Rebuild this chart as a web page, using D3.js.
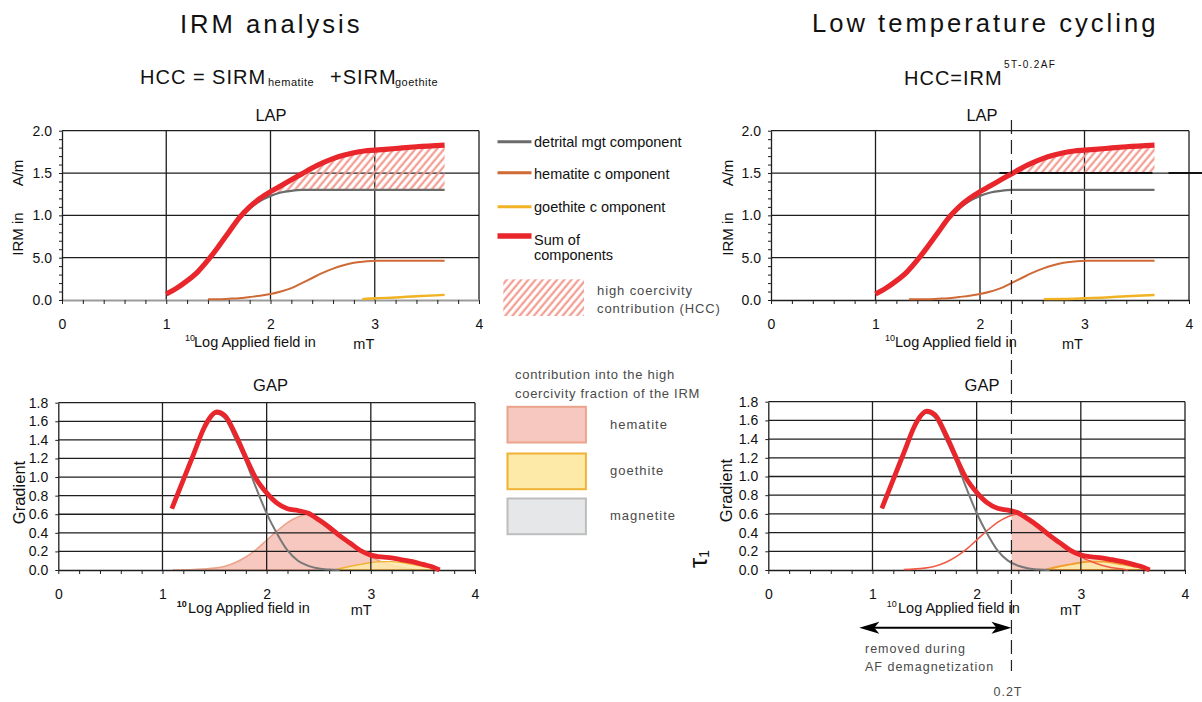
<!DOCTYPE html>
<html>
<head>
<meta charset="utf-8">
<script src="https://cdn.jsdelivr.net/npm/d3@7"></script>
<style>
  html, body { margin: 0; padding: 0; background: #fff; }
  svg { display: block; font-family: "Liberation Sans", Arial, Helvetica, sans-serif; }
</style>
</head>
<body>
<svg id="chart" width="1202" height="702"></svg>
<script>
// ---- Field axis: log10 of the applied field in mT ----
const fieldTicks = [0, 1, 2, 3, 4];
const fieldMinorTicks = [0, 0.2, 0.4, 0.6, 0.8, 1, 1.2, 1.4, 1.6, 1.8, 2, 2.2, 2.4, 2.6, 2.8, 3, 3.2, 3.4, 3.6, 3.8, 4];
const afField = 2.301; // 0.2 T = 200 mT

// ---- LAP (linear acquisition plot) ----
const lapTickValues = [0, 0.5, 1.0, 1.5, 2.0];
const lapTickLabels = ["0.0", "5.0", "1.0", "1.5", "2.0"];
const lapMinorTicks = [0, 0.1, 0.2, 0.3, 0.4, 0.5, 0.6, 0.7, 0.8, 0.9, 1.0, 1.1, 1.2, 1.3, 1.4, 1.5, 1.6, 1.7, 1.8, 1.9, 2.0];
const lapField     = [1.0, 1.1, 1.17, 1.3, 1.4, 1.5, 1.6, 1.7, 1.8, 1.9, 2.0, 2.1, 2.2, 2.3, 2.4, 2.5, 2.6, 2.7, 2.8, 2.9, 3.0, 3.2, 3.4, 3.67];
const lapSum       = [0.07, 0.14, 0.20, 0.33, 0.47, 0.63, 0.80, 0.97, 1.10, 1.20, 1.28, 1.35, 1.42, 1.49, 1.56, 1.62, 1.67, 1.71, 1.74, 1.76, 1.77, 1.79, 1.81, 1.83];
const lapMagnetite = [0.07, 0.14, 0.20, 0.33, 0.46, 0.62, 0.785, 0.95, 1.08, 1.17, 1.23, 1.27, 1.29, 1.30, 1.30, 1.30, 1.30, 1.30, 1.30, 1.30, 1.30, 1.30, 1.30, 1.30];
const lapHemFieldL = [1.4, 1.5, 1.6, 1.7, 1.8, 1.9, 2.0, 2.1, 2.2, 2.3, 2.4, 2.5, 2.6, 2.7, 2.8, 2.9, 3.0, 3.2, 3.4, 3.67];
const lapHematiteL = [0.01, 0.01, 0.015, 0.02, 0.035, 0.05, 0.07, 0.10, 0.14, 0.20, 0.26, 0.32, 0.37, 0.41, 0.44, 0.455, 0.465, 0.465, 0.465, 0.465];
const lapHemFieldR = [1.32, 1.4, 1.5, 1.6, 1.7, 1.8, 1.9, 2.0, 2.1, 2.2, 2.3, 2.4, 2.5, 2.6, 2.7, 2.8, 2.9, 3.0, 3.2, 3.4, 3.67];
const lapHematiteR = [0.01, 0.01, 0.01, 0.015, 0.02, 0.035, 0.05, 0.07, 0.10, 0.14, 0.20, 0.26, 0.32, 0.37, 0.41, 0.44, 0.455, 0.465, 0.465, 0.465, 0.465];
const lapGoeFieldL = [2.88, 3.0, 3.2, 3.4, 3.67];
const lapGoethiteL = [0.01, 0.02, 0.03, 0.045, 0.06];
const lapGoeFieldR = [2.61, 2.8, 3.0, 3.2, 3.4, 3.67];
const lapGoethiteR = [0.01, 0.012, 0.02, 0.03, 0.045, 0.06];
const hccStartL = 1.8;        // HCC = sum above the magnetite curve
const hccLevelR = 1.5;        // HCC = IRM left after 0.2 T AF

// ---- GAP (gradient of acquisition plot) ----
const gapTickValues = [0, 0.2, 0.4, 0.6, 0.8, 1.0, 1.2, 1.4, 1.6, 1.8];
const gapField     = [1.09, 1.2, 1.3, 1.4, 1.45, 1.52, 1.6, 1.7, 1.8, 1.9, 2.0, 2.1, 2.2, 2.3, 2.4, 2.5, 2.6, 2.7, 2.8, 2.9, 3.0, 3.1, 3.2, 3.3, 3.4, 3.5, 3.6, 3.66];
const gapSum       = [0.66, 0.97, 1.25, 1.53, 1.63, 1.70, 1.66, 1.46, 1.21, 0.98, 0.83, 0.72, 0.66, 0.64, 0.61, 0.54, 0.46, 0.37, 0.29, 0.21, 0.16, 0.14, 0.13, 0.11, 0.09, 0.06, 0.03, 0.0];
const gapMgtField  = [1.09, 1.2, 1.3, 1.4, 1.45, 1.52, 1.6, 1.7, 1.8, 1.9, 2.0, 2.1, 2.2, 2.3, 2.4, 2.5, 2.6, 2.7];
const gapMagnetite = [0.66, 0.97, 1.245, 1.52, 1.62, 1.68, 1.63, 1.41, 1.17, 0.88, 0.61, 0.39, 0.21, 0.10, 0.045, 0.015, 0.005, 0.0];
const gapHemField  = [1.1, 1.3, 1.5, 1.6, 1.7, 1.8, 1.9, 2.0, 2.1, 2.2, 2.3, 2.4, 2.5, 2.6, 2.7, 2.8, 2.9, 3.0, 3.1, 3.2, 3.3, 3.4, 3.45];
const gapHematite  = [0.0, 0.005, 0.02, 0.04, 0.08, 0.14, 0.22, 0.32, 0.42, 0.51, 0.57, 0.60, 0.56, 0.48, 0.38, 0.29, 0.21, 0.14, 0.09, 0.05, 0.025, 0.01, 0.0];
const gapGoeField  = [2.65, 2.8, 2.9, 3.0, 3.1, 3.2, 3.3, 3.4, 3.5, 3.6, 3.66];
const gapGoethite  = [0.0, 0.04, 0.06, 0.08, 0.09, 0.09, 0.08, 0.06, 0.04, 0.02, 0.0];

// ---- styling ----
const C = {
  sum: "#e8262b", mgt: "#6b6b6b", hem: "#cf6a36", goe: "#f1b324",
  hemFill: "#f7c8bf", hemEdge: "#eaa48c", goeFill: "#fde9a8", goeEdge: "#f0b234",
  mgtFill: "#e6e7e9", mgtEdge: "#bdbdbd", grid: "#1e1e1e", text: "#111", soft: "#4a4a4a"
};

const svg = d3.select("#chart");
const defs = svg.append("defs");

const hatch = defs.append("pattern")
  .attr("id", "hatch").attr("patternUnits", "userSpaceOnUse")
  .attr("width", 5.5).attr("height", 5.5)
  .attr("patternTransform", "rotate(40)");
hatch.append("line")
  .attr("x1", 1.5).attr("y1", 0).attr("x2", 1.5).attr("y2", 5.5)
  .attr("stroke", "#f2978c").attr("stroke-width", 2.1);

function pts(xs, ys) { return d3.zip(xs, ys); }

function text(g, x, y, str, size, o = {}) {
  const t = g.append("text").attr("x", x).attr("y", y)
    .attr("font-size", size).attr("fill", o.fill || C.text)
    .attr("text-anchor", o.anchor || "start")
    .text(str);
  if (o.ls) t.attr("letter-spacing", o.ls);
  if (o.weight) t.attr("font-weight", o.weight);
  return t;
}

function rotText(g, x, y, str, size) {
  g.append("text").attr("transform", `translate(${x},${y}) rotate(-90)`)
    .attr("text-anchor", "middle").attr("font-size", size).attr("fill", C.text).text(str);
}

// Builds one panel: scales, grid, frame, axes.
function panel(frame, yMax, yMajor, yMinor, yLabels, baseColor) {
  const x = d3.scaleLinear().domain([0, 4]).range([frame.left, frame.right]);
  const y = d3.scaleLinear().domain([0, yMax]).range([frame.bottom, frame.top]);
  const g = svg.append("g");
  const under = g.append("g");   // fills
  const grid = g.append("g");
  const over = g.append("g");    // curves

  grid.selectAll("line.h").data(yMajor.filter(v => v > 0)).join("line")
    .attr("x1", x(0)).attr("x2", x(4))
    .attr("y1", d => y(d)).attr("y2", d => y(d))
    .attr("stroke", C.grid).attr("stroke-width", 1.3);
  grid.selectAll("line.v").data(fieldTicks.filter(v => v > 0)).join("line")
    .attr("x1", d => x(d)).attr("x2", d => x(d))
    .attr("y1", y(0)).attr("y2", y(yMax))
    .attr("stroke", C.grid).attr("stroke-width", 1.3);

  // field axis: minor ticks + labels
  const xa = grid.append("g").attr("transform", `translate(0,${y(0)})`)
    .call(d3.axisBottom(x).tickValues(fieldMinorTicks).tickSize(4).tickSizeOuter(0).tickFormat(""));
  xa.select(".domain").attr("stroke", baseColor).attr("stroke-width", baseColor === C.grid ? 1.3 : 2);
  xa.selectAll(".tick line").attr("stroke", C.grid).attr("stroke-width", 1);
  const xl = grid.append("g").attr("transform", `translate(0,${y(0)})`)
    .call(d3.axisBottom(x).tickValues(fieldTicks).tickSize(0).tickPadding(19).tickFormat(d3.format("d")));
  xl.select(".domain").remove();
  xl.selectAll("text").attr("font-size", 14).attr("font-family", null).attr("fill", C.text);

  // value axis
  const ya = grid.append("g").attr("transform", `translate(${x(0)},0)`)
    .call(d3.axisLeft(y).tickValues(yMinor).tickSize(3).tickSizeOuter(0).tickFormat(""));
  ya.select(".domain").attr("stroke", C.grid).attr("stroke-width", 1.3);
  ya.selectAll(".tick line").attr("stroke", C.grid).attr("stroke-width", 1);
  const yl = grid.append("g").attr("transform", `translate(${x(0)},0)`)
    .call(d3.axisLeft(y).tickValues(yMajor).tickSize(0).tickPadding(10)
      .tickFormat((d, i) => yLabels[i]));
  yl.select(".domain").remove();
  yl.selectAll("text").attr("font-size", 14).attr("font-family", null).attr("fill", C.text);

  return { x, y, g, under, grid, over };
}

function curve(p, layer, xs, ys, color, width) {
  const line = d3.line().x(d => p.x(d[0])).y(d => p.y(d[1])).curve(d3.curveMonotoneX);
  layer.append("path").attr("d", line(pts(xs, ys)))
    .attr("fill", "none").attr("stroke", color).attr("stroke-width", width)
    .attr("stroke-linejoin", "round").attr("stroke-linecap", "butt");
}

function area(p, layer, xs, y0s, y1s, fill, stroke, strokeW, clip) {
  const a = d3.area().x(d => p.x(d[0])).y0(d => p.y(d[1])).y1(d => p.y(d[2])).curve(d3.curveMonotoneX);
  const path = layer.append("path").attr("d", a(d3.zip(xs, y0s, y1s)))
    .attr("fill", fill).attr("stroke", stroke || "none").attr("stroke-width", strokeW || 0);
  if (clip) path.attr("clip-path", `url(#${clip})`);
  return path;
}

const lapLabels = lapTickLabels;
const gapLabels = gapTickValues.map(d3.format(".1f"));

// ---------- IRM analysis: LAP ----------
const lapL = panel({ left: 62, right: 479, top: 130.7, bottom: 300 }, 2, lapTickValues, lapMinorTicks, lapLabels, "#9c9c9c");
{
  const idx = lapField.map((f, i) => i).filter(i => lapField[i] >= hccStartL);
  area(lapL, lapL.over, idx.map(i => lapField[i]), idx.map(i => lapMagnetite[i]), idx.map(i => lapSum[i]), "url(#hatch)");
  curve(lapL, lapL.over, lapField, lapMagnetite, C.mgt, 2.2);
  curve(lapL, lapL.over, lapHemFieldL, lapHematiteL, C.hem, 2);
  curve(lapL, lapL.over, lapGoeFieldL, lapGoethiteL, C.goe, 2.4);
  curve(lapL, lapL.over, lapField, lapSum, C.sum, 5.2);
}

// ---------- Low temperature cycling: LAP ----------
const lapR = panel({ left: 771, right: 1189, top: 130.7, bottom: 300 }, 2, lapTickValues, lapMinorTicks, lapLabels, C.grid);
{
  const idx = lapField.map((f, i) => i).filter(i => lapField[i] >= 2.3);
  area(lapR, lapR.over, idx.map(i => lapField[i]), idx.map(() => hccLevelR), idx.map(i => lapSum[i]), "url(#hatch)");
  lapR.over.append("line")
    .attr("x1", lapR.x(afField) - 12).attr("x2", 1202)
    .attr("y1", lapR.y(hccLevelR)).attr("y2", lapR.y(hccLevelR))
    .attr("stroke", "#111").attr("stroke-width", 2).attr("stroke-dasharray", "153,16");
  curve(lapR, lapR.over, lapField, lapMagnetite, C.mgt, 2.2);
  curve(lapR, lapR.over, lapHemFieldR, lapHematiteR, C.hem, 2);
  curve(lapR, lapR.over, lapGoeFieldR, lapGoethiteR, C.goe, 2.4);
  curve(lapR, lapR.over, lapField, lapSum, C.sum, 5.2);
}

// ---------- IRM analysis: GAP ----------
const gapL = panel({ left: 58.3, right: 475, top: 402.7, bottom: 570 }, 1.8, gapTickValues, gapTickValues, gapLabels, C.grid);
{
  area(gapL, gapL.under, gapHemField, gapHemField.map(() => 0), gapHematite, C.hemFill, C.hemEdge, 1.6);
  area(gapL, gapL.under, gapGoeField, gapGoeField.map(() => 0), gapGoethite, C.goeFill, C.goeEdge, 1.4).attr("fill-opacity", 0.85);
  curve(gapL, gapL.over, gapMgtField, gapMagnetite, "#777", 2);
  curve(gapL, gapL.over, gapField, gapSum, C.sum, 4.8);
}

// ---------- Low temperature cycling: GAP ----------
const gapR = panel({ left: 768.3, right: 1185, top: 401.7, bottom: 570 }, 1.8, gapTickValues, gapTickValues, gapLabels, C.grid);
const afX = lapR.x(afField);
defs.append("clipPath").attr("id", "afClip").append("rect")
  .attr("x", afX).attr("y", 0).attr("width", 1202 - afX).attr("height", 702);
{
  area(gapR, gapR.under, gapHemField, gapHemField.map(() => 0), gapHematite, C.hemFill, "none", 0, "afClip");
  area(gapR, gapR.under, gapGoeField, gapGoeField.map(() => 0), gapGoethite, C.goeFill, "#f0a030", 2).attr("fill-opacity", 0.9);
  const hi = gapHemField.map((f, i) => i).filter(i => gapHemField[i] >= 1.3);
  curve(gapR, gapR.over, hi.map(i => gapHemField[i]), hi.map(i => gapHematite[i]), "#ef5b45", 1.6);
  curve(gapR, gapR.over, gapMgtField, gapMagnetite, "#777", 2);
  curve(gapR, gapR.over, gapField, gapSum, C.sum, 4.8);
}

// ---------- 0.2 T AF marker ----------
const ann = svg.append("g");
ann.append("line").attr("x1", afX).attr("x2", afX).attr("y1", 120).attr("y2", 671)
  .attr("stroke", "#222").attr("stroke-width", 1.2).attr("stroke-dasharray", "14,6");
{
  const ay = 627.7, xl = 859.3, xr = afX;
  ann.append("line").attr("x1", xl + 10).attr("x2", xr - 10).attr("y1", ay).attr("y2", ay)
    .attr("stroke", "#000").attr("stroke-width", 2);
  ann.append("path").attr("d", `M${xl},${ay} L${xl + 20},${ay - 6} L${xl + 15},${ay} L${xl + 20},${ay + 6} Z`).attr("fill", "#000");
  ann.append("path").attr("d", `M${xr},${ay} L${xr - 20},${ay - 6} L${xr - 15},${ay} L${xr - 20},${ay + 6} Z`).attr("fill", "#000");
  text(ann, 865, 653, "removed during", 12.5, { fill: C.soft, ls: 1 });
  text(ann, 865, 671, "AF demagnetization", 12.5, { fill: C.soft, ls: 1 });
  text(ann, 1008, 696, "0.2T", 12.5, { fill: C.soft, ls: 1, anchor: "middle" });
}

// ---------- titles ----------
const T = svg.append("g");
text(T, 180, 33, "IRM analysis", 25.6, { ls: 3 });
text(T, 812, 32, "Low temperature cycling", 25.6, { ls: 3 });
text(T, 140, 84, "HCC = SIRM", 20, { ls: 1 });
text(T, 268, 86, "hematite", 11, { ls: 0.5 });
text(T, 330, 84, "+SIRM", 20, { ls: 1 });
text(T, 395, 86, "goethite", 11, { ls: 0.5 });
text(T, 904, 85, "HCC=IRM", 20, { ls: 1 });
text(T, 1004, 68, "5T-0.2AF", 10, { ls: 1.4 });

// panel titles
text(T, 271, 120.5, "LAP", 16.5, { anchor: "middle" });
text(T, 982, 120.5, "LAP", 16.5, { anchor: "middle" });
text(T, 270.5, 391, "GAP", 16.5, { anchor: "middle" });
text(T, 982, 391, "GAP", 16.5, { anchor: "middle" });

// axis titles
function fieldTitle(x10, xLog, yBase, xmT, ymT, bold10) {
  text(T, x10, yBase - 6, "10", 9, { weight: bold10 ? "bold" : null });
  text(T, xLog, yBase, "Log Applied field in", 14.5);
  text(T, xmT, ymT, "mT", 14.5);
}
fieldTitle(185, 194, 346.5, 353.3, 349.3, false);
fieldTitle(885, 895, 346.5, 1062, 349.3, false);
fieldTitle(176.7, 188, 612.7, 350.7, 615, true);
fieldTitle(886.7, 898, 612.7, 1060, 615, false);

rotText(T, 23, 234, "IRM in", 15);
rotText(T, 23, 173, "A/m", 15);
rotText(T, 733, 234, "IRM in", 15);
rotText(T, 733, 173, "A/m", 15);
rotText(T, 25, 492.5, "Gradient", 16.5);
rotText(T, 732, 490.5, "Gradient", 16.5);

T.append("text").attr("transform", "translate(707,568) rotate(-90)")
  .attr("fill", C.text)
  .call(t => {
    t.append("tspan").attr("font-size", 26).text("τ");
    t.append("tspan").attr("font-size", 14).attr("dy", 2).text("1");
  });

// ---------- legend ----------
const L = svg.append("g");
const legendLines = [
  { y: 141.7, ty: 147, color: C.mgt, w: 3, label: ["detrital mgt component"] },
  { y: 172.7, ty: 178.5, color: C.hem, w: 3, label: ["hematite c omponent"] },
  { y: 206.7, ty: 212, color: C.goe, w: 3, label: ["goethite c omponent"] },
  { y: 236, ty: 244.5, color: C.sum, w: 5.5, label: ["Sum of", "components"] }
];
legendLines.forEach(d => {
  L.append("line").attr("x1", 497.5).attr("x2", 531.5).attr("y1", d.y).attr("y2", d.y)
    .attr("stroke", d.color).attr("stroke-width", d.w);
  d.label.forEach((s, i) => text(L, 534, d.ty + i * 15, s, 14.5));
});
L.append("rect").attr("x", 503.3).attr("y", 279.3).attr("width", 80.7).attr("height", 36.7).attr("fill", "url(#hatch)");
text(L, 597, 295, "high coercivity", 13, { fill: C.soft, ls: 0.9 });
text(L, 597, 313, "contribution (HCC)", 13, { fill: C.soft, ls: 0.9 });

text(L, 515, 379, "contribution into the high", 13, { fill: C.soft, ls: 0.7 });
text(L, 515, 398, "coercivity fraction of the IRM", 13, { fill: C.soft, ls: 0.7 });
const legendBoxes = [
  { y: 406, fill: C.hemFill, edge: C.hemEdge, label: "hematite", ty: 428.5 },
  { y: 452.7, fill: C.goeFill, edge: C.goeEdge, label: "goethite", ty: 475 },
  { y: 497.7, fill: C.mgtFill, edge: C.mgtEdge, label: "magnetite", ty: 520 }
];
legendBoxes.forEach(d => {
  L.append("rect").attr("x", 507.5).attr("y", d.y + 0.8).attr("width", 78.4).attr("height", 35.7)
    .attr("fill", d.fill).attr("stroke", d.edge).attr("stroke-width", 2);
  text(L, 610, d.ty, d.label, 13, { fill: C.soft, ls: 1 });
});
</script>
</body>
</html>
